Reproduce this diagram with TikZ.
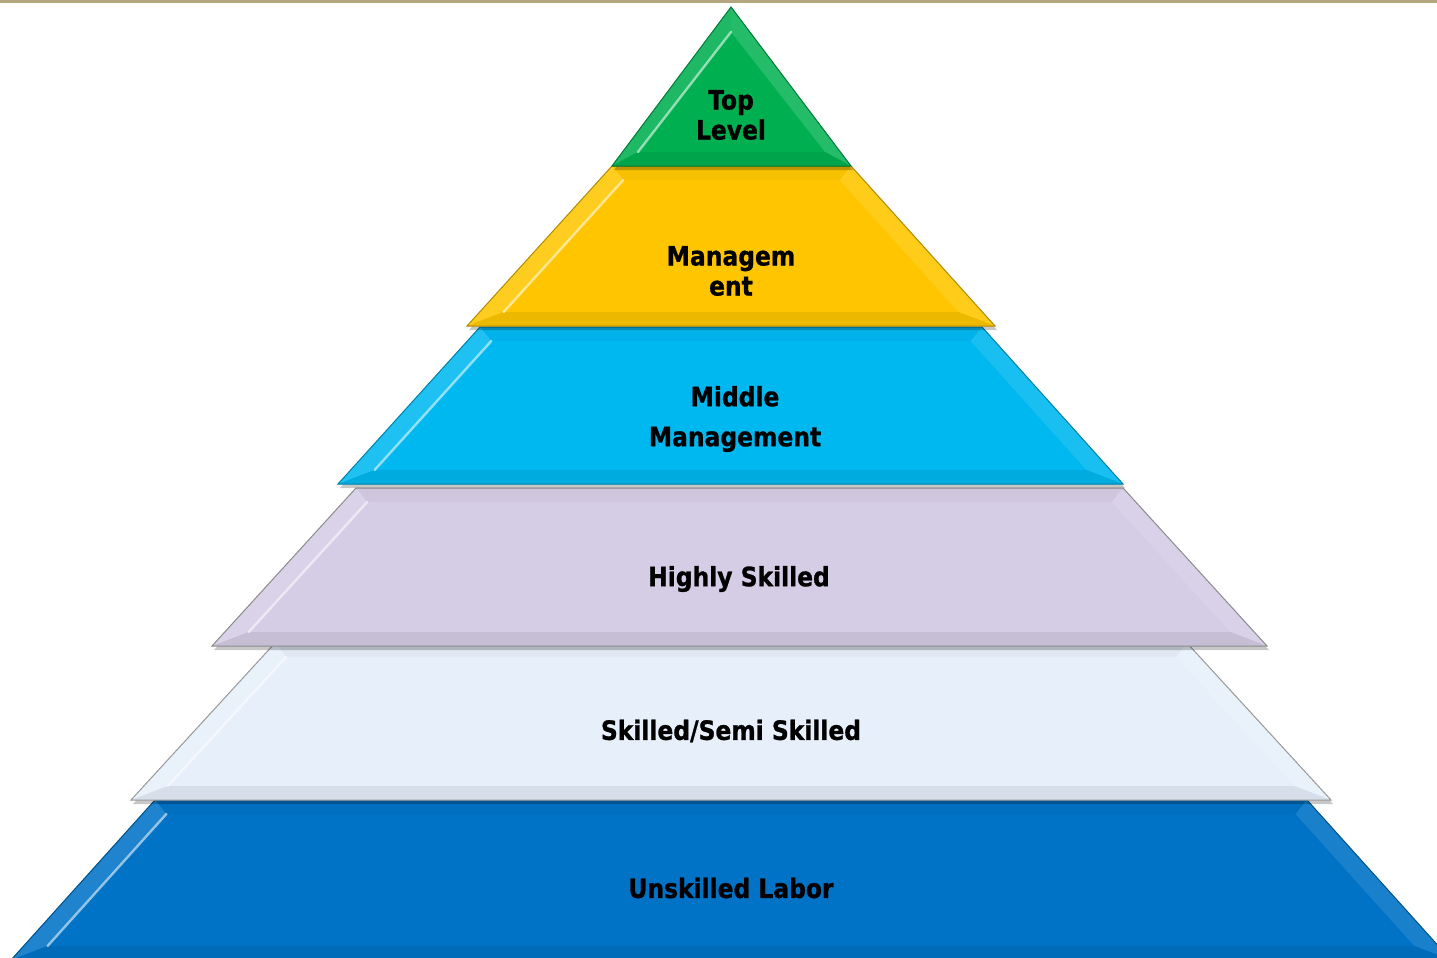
\documentclass[tikz,border=0pt]{standalone}
\usepackage{fontspec}
\setmainfont{DejaVu Sans}
\newfontfamily\heavyfont{DejaVu Sans Bold}[FakeBold=1.0,FakeStretch=0.88]
\usetikzlibrary{calc}
\definecolor{cGreen}{HTML}{00B050}
\definecolor{cYellow}{HTML}{FFC600}
\definecolor{cCyan}{HTML}{00B8F0}
\definecolor{cLav}{HTML}{D5CCE5}
\definecolor{cLight}{HTML}{E6EFFA}
\definecolor{cBlue}{HTML}{0073C6}
\definecolor{cTopLine}{HTML}{B3A580}
\newcommand{\pyrlayer}[8]{%
  \pgfmathsetmacro{\sL}{(#4-#6)/(#3-#2)}%
  \pgfmathsetmacro{\sR}{(#7-#5)/(#3-#2)}%
  \pgfmathsetmacro{\ity}{#2+14}%
  \pgfmathsetmacro{\iby}{#3-14}%
  \pgfmathsetmacro{\itl}{#4-\sL*14+24}%
  \pgfmathsetmacro{\itr}{#5+\sR*14-24}%
  \pgfmathsetmacro{\ibl}{#6+\sL*14+24}%
  \pgfmathsetmacro{\ibr}{#7-\sR*14-24}%
  \fill[black,opacity=.22,shift={(2,4)}] (#4,#2) -- (#5,#2) -- (#7,#3) -- (#6,#3) -- cycle;
  \fill[#1] (#4,#2) -- (#5,#2) -- (#7,#3) -- (#6,#3) -- cycle;
  \fill[#1!97!black] (#4,#2) -- (#5,#2) -- (\itr,\ity) -- (\itl,\ity) -- cycle;
  \fill[#1!88!white] (#4,#2) -- (\itl,\ity) -- (\ibl,\iby) -- (#6,#3) -- cycle;
  \fill[#1!90!white] (#5,#2) -- (#7,#3) -- (\ibr,\iby) -- (\itr,\ity) -- cycle;
  \fill[#1!93!black] (#6,#3) -- (#7,#3) -- (\ibr,\iby) -- (\ibl,\iby) -- cycle;
  \draw[white,opacity=.55,line width=1.2pt,line cap=round] (\itl,\ity) -- (\ibl,\iby);
  \draw[#8,line width=0.5pt] (#4,#2) -- (#5,#2) -- (#7,#3) -- (#6,#3) -- cycle;
}
\tikzset{
  lbl/.style={text=black,align=center,inner sep=0pt,
    font=\heavyfont\fontsize{13.3}{15}\selectfont}
}
\begin{document}
\begin{tikzpicture}[x=0.5pt,y=-0.5pt]
\clip (0,0) rectangle (1437,958);
\fill[white] (0,0) rectangle (1437,958);
\fill[cTopLine] (0,0) rectangle (1437,2.5);
% layers, bottom first
\pyrlayer{cBlue}{800}{960}{155}{1307}{11}{1451}{cBlue!70!black}
\pyrlayer{cLight}{643}{800}{275}{1187}{131}{1331}{black!40}
\pyrlayer{cLav}{488}{646}{356}{1123}{212}{1267}{black!45}
\pyrlayer{cCyan}{327}{484}{480}{982}{338}{1123}{cCyan!70!black}
\pyrlayer{cYellow}{166}{326}{612}{851}{467}{995}{cYellow!70!black}
% green triangle
\fill[black,opacity=.22,shift={(2,4)}] (731,7) -- (851,166) -- (612,166) -- cycle;
\fill[cGreen] (731,7) -- (851,166) -- (612,166) -- cycle;
\fill[cGreen!88!white] (731,7) -- (731,32) -- (638,152) -- (612,166) -- cycle;
\fill[cGreen!86!white] (731,7) -- (851,166) -- (825,152) -- (731,32) -- cycle;
\fill[cGreen!93!black] (612,166) -- (851,166) -- (825,152) -- (638,152) -- cycle;
\draw[white,opacity=.55,line width=1.2pt,line cap=round] (731,32) -- (638,152);
\draw[cGreen!70!black,line width=0.5pt] (731,7) -- (851,166) -- (612,166) -- cycle;
% labels
\node[lbl] (top) at (731,115) {Top\\Level};
\node[lbl] (mgmt) at (731,271) {Managem\\ent};
\node[lbl] (mid) at (735,419) {Middle\\[5pt]Management};
\node[lbl] (high) at (739,579) {Highly Skilled};
\node[lbl] (semi) at (731,731) {Skilled/Semi Skilled};
\node[lbl] (unsk) at (731,888) {Unskilled Labor};
\end{tikzpicture}
\end{document}
